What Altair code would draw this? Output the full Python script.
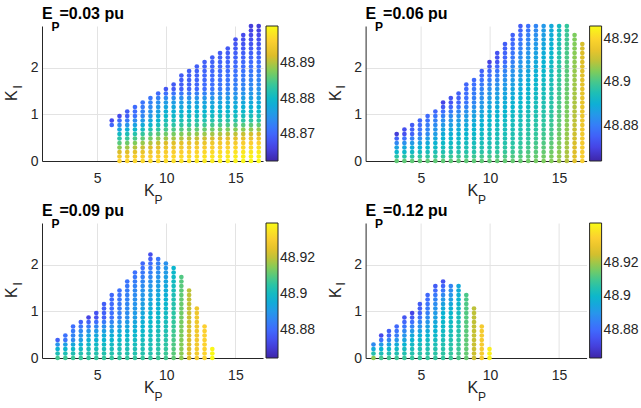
import altair as alt
import numpy as np
import pandas as pd

FONT = "Liberation Sans"

# K_P grid (columns) and K_I grid (rows)
KP_GRID = [1.57, 2.13, 2.69, 3.25, 3.81, 4.37, 4.93, 5.49, 6.05, 6.61, 7.17, 7.73, 8.29, 8.85,
           9.41, 9.97, 10.53, 11.09, 11.65, 12.21, 12.77, 13.33, 13.89, 14.45, 15.01, 15.57,
           16.13, 16.69]
KI_GRID = [0.0, 0.097, 0.193, 0.29, 0.387, 0.483, 0.58, 0.677, 0.773, 0.87, 0.967, 1.063, 1.16,
           1.257, 1.353, 1.45, 1.547, 1.643, 1.74, 1.837, 1.933, 2.03, 2.127, 2.223, 2.32, 2.417,
           2.513, 2.61, 2.707, 2.803, 2.9]

# panel titles (E_P in pu)
EP_LABELS = ["0.03", "0.06", "0.09", "0.12"]

# first K_P column index, lowest and highest K_I row index for every column
P1_FIRST = 8
P1_BOTTOM = [8] + [0] * 19
P1_TOP = [9, 10, 11, 12, 13, 14, 15, 16, 17, 19, 20, 21, 22, 23, 24, 25, 27, 28, 30, 30]
P2_FIRST = 3
P2_BOTTOM = [0] * 25
P2_TOP = [6, 7, 8, 9, 10, 11, 13, 14, 15, 17, 18, 20, 22, 24, 26, 28, 30, 30, 30, 30, 30, 30, 30, 28, 26]
P3_FIRST = 1
P3_BOTTOM = [0] * 21
P3_TOP = [4, 5, 7, 8, 9, 10, 12, 14, 15, 17, 19, 21, 23, 22, 21, 20, 18, 15, 11, 7, 2]
P4_FIRST = 0
P4_BOTTOM = [0] * 16
P4_TOP = [3, 5, 6, 7, 9, 10, 12, 14, 16, 17, 16, 16, 14, 11, 7, 2]

# colour bar limits (Hz) and labelled colour bar ticks
P1_CLIM = [48.8625, 48.9003]
P2_CLIM = [48.8637, 48.926]
P3_CLIM = [48.8642, 48.9393]
P4_CLIM = [48.863, 48.944]
P1_CTICKS = [48.87, 48.88, 48.89]
P2_CTICKS = [48.88, 48.9, 48.92]
P3_CTICKS = [48.88, 48.9, 48.92]
P4_CTICKS = [48.88, 48.9, 48.92]

# colour readings: (K_P column, K_I levels, position of the dot colour on the colour bar 0..1)
P1_COLOUR = [
    (6.05, [0.77, 0.87], [0.2, 0.12]),
    (6.61, [0, 0.1, 0.2, 0.3, 0.4, 0.5, 0.6, 0.7, 0.8, 0.97], [0.9, 0.85, 0.77, 0.67, 0.6, 0.53, 0.46, 0.37, 0.27, 0.12]),
    (9.97, [0, 0.2, 0.36, 0.5, 0.65, 0.8, 1.0, 1.3, 1.55], [0.92, 0.87, 0.8, 0.69, 0.6, 0.52, 0.45, 0.34, 0.15]),
    (16.69, [0, 0.2, 0.4, 0.55, 0.7, 0.85, 1.0, 1.3, 1.6, 2.0, 2.4, 2.9],
     [1.0, 0.96, 0.89, 0.8, 0.68, 0.56, 0.48, 0.39, 0.31, 0.24, 0.17, 0.08]),
]
P2_COLOUR = [
    (3.25, [0, 0.1, 0.2, 0.3, 0.4, 0.5, 0.58], [0.62, 0.53, 0.45, 0.37, 0.28, 0.17, 0.08]),
    (6.61, [0, 0.1, 0.2, 0.4, 0.7, 1.0, 1.26], [0.62, 0.56, 0.51, 0.46, 0.38, 0.26, 0.1]),
    (9.97, [0, 0.1, 0.2, 0.4, 0.7, 1.0, 1.5, 2.0, 2.13], [0.62, 0.58, 0.54, 0.5, 0.47, 0.43, 0.33, 0.18, 0.09]),
    (12.21, [0, 0.2, 0.5, 1.0, 1.5, 2.0, 2.5, 2.9], [0.63, 0.58, 0.53, 0.48, 0.42, 0.35, 0.26, 0.17]),
    (14.45, [0, 0.5, 1.0, 2.0, 2.9], [0.67, 0.6, 0.55, 0.48, 0.4]),
    (15.57, [0, 1.0, 2.9], [0.73, 0.66, 0.56]),
    (16.13, [0, 1.0, 2.7], [0.8, 0.73, 0.66]),
    (16.69, [0, 1.0, 2.5], [0.88, 0.83, 0.77]),
]
P3_COLOUR = [
    (2.13, [0, 0.1, 0.2, 0.3, 0.39], [0.58, 0.5, 0.43, 0.32, 0.18]),
    (4.37, [0, 0.1, 0.3, 0.5, 0.7, 0.87], [0.56, 0.52, 0.46, 0.38, 0.25, 0.1]),
    (8.85, [0, 0.1, 0.5, 1.0, 1.5, 2.0, 2.22], [0.56, 0.52, 0.48, 0.43, 0.35, 0.23, 0.13]),
    (9.97, [0, 0.5, 1.0, 1.5, 2.03], [0.58, 0.52, 0.47, 0.41, 0.32]),
    (10.53, [0, 1.0, 1.93], [0.62, 0.54, 0.45]),
    (11.09, [0, 1.0, 1.74], [0.68, 0.64, 0.6]),
    (11.65, [0, 1.45], [0.78, 0.74]),
    (12.21, [0, 1.06], [0.86, 0.84]),
    (12.77, [0, 0.68], [0.9, 0.89]),
    (13.33, [0, 0.19], [1.0, 0.99]),
]
P4_COLOUR = [
    (1.57, [0, 0.1, 0.2, 0.29], [0.68, 0.52, 0.4, 0.3]),
    (2.13, [0, 0.1, 0.2, 0.3, 0.48], [0.58, 0.5, 0.44, 0.34, 0.12]),
    (4.37, [0, 0.1, 0.3, 0.5, 0.7, 0.97], [0.56, 0.52, 0.47, 0.4, 0.27, 0.1]),
    (6.61, [0, 0.5, 1.0, 1.3, 1.64], [0.56, 0.48, 0.43, 0.33, 0.14]),
    (7.17, [0, 0.5, 1.0, 1.55], [0.57, 0.5, 0.45, 0.28]),
    (7.73, [0, 1.0, 1.55], [0.59, 0.48, 0.4]),
    (8.29, [0, 1.35], [0.63, 0.59]),
    (8.85, [0, 1.06], [0.76, 0.74]),
    (9.41, [0, 0.68], [0.87, 0.86]),
    (9.97, [0, 0.19], [0.98, 0.97]),
]

PARULA = ["#3e26a8", "#4747eb", "#3e6fff", "#2796eb", "#08b5d0",
          "#31c69f", "#81cc59", "#dcbd29", "#fccf30", "#f9fb15"]

W, H = 221, 135


def panel_frame(first, bottoms, tops, colour, clim):
    rows = []
    kps = [c[0] for c in colour]
    for j, (b, t) in enumerate(zip(bottoms, tops)):
        kp = KP_GRID[first + j]
        for i in range(b, t + 1):
            ki = KI_GRID[i]
            levels = [np.interp(ki, c[1], c[2]) for c in colour]
            frac = float(np.interp(kp, kps, levels))
            rows.append({"kp": kp, "ki": ki, "f": clim[0] + frac * (clim[1] - clim[0])})
    return pd.DataFrame(rows)


def text(s, x, y, size, weight="normal", angle=0, color="#262626"):
    props = dict(text=s, align="left", baseline="alphabetic", font=FONT,
                 fontSize=size, fontWeight=weight, color=color)
    if angle:
        props["angle"] = angle
    return alt.Chart(alt.Data(values=[{"a": 1}])).mark_text(**props).encode(
        x=alt.value(x), y=alt.value(y))


def panel(ep, first, bottoms, tops, colour, clim, cticks):
    df = panel_frame(first, bottoms, tops, colour, clim)
    dom = [float(v) for v in np.linspace(clim[0], clim[1], len(PARULA))]
    pts = alt.Chart(df).mark_circle(size=22, opacity=1).encode(
        x=alt.X("kp:Q", scale=alt.Scale(domain=[1, 17], nice=False, zero=False),
                axis=alt.Axis(values=[5, 10, 15], title=None, labelPadding=10)),
        y=alt.Y("ki:Q", scale=alt.Scale(domain=[0, 2.9], nice=False, zero=False),
                axis=alt.Axis(values=[0, 1, 2], title=None, labelPadding=4)),
        color=alt.Color("f:Q", title=None,
                        scale=alt.Scale(domain=dom, range=PARULA, nice=False, zero=False,
                                        interpolate="rgb"),
                        legend=alt.Legend(values=cticks, format="~g", orient="right", offset=3,
                                          gradientLength=H, gradientThickness=12,
                                          labelOverlap=False)),
    )
    layers = [
        pts,
        text("E", 0, -6.7, 16, "bold", color="#000000"),
        text("P", 9.5, 4.5, 12, "bold", color="#000000"),
        text("=" + ep + " pu", 17.5, -6.7, 16, "bold", color="#000000"),
        text("K", 102, 170, 16),
        text("P", 112.5, 178, 12),
        text("K", -25, 75, 16, angle=270),
        text("I", -20.5, 62.5, 12, angle=270),
    ]
    return alt.layer(*layers).properties(width=W, height=H)


charts = [
    panel(EP_LABELS[0], P1_FIRST, P1_BOTTOM, P1_TOP, P1_COLOUR, P1_CLIM, P1_CTICKS),
    panel(EP_LABELS[1], P2_FIRST, P2_BOTTOM, P2_TOP, P2_COLOUR, P2_CLIM, P2_CTICKS),
    panel(EP_LABELS[2], P3_FIRST, P3_BOTTOM, P3_TOP, P3_COLOUR, P3_CLIM, P3_CTICKS),
    panel(EP_LABELS[3], P4_FIRST, P4_BOTTOM, P4_TOP, P4_COLOUR, P4_CLIM, P4_CTICKS),
]

chart = alt.ConcatChart(
    concat=charts, columns=2,
    spacing=alt.RowColnumber(row=62, column=102.6),
    bounds="flush",
).resolve_scale(color="independent").properties(
    padding={"left": 4, "top": 6, "right": 0, "bottom": 0}
).configure_view(stroke=None).configure_axis(
    domainColor="#262626", domainWidth=1, gridColor="#e3e3e3", gridWidth=1,
    labelColor="#262626", labelFont=FONT, labelFontSize=14, ticks=False, tickSize=0,
).configure_legend(
    gradientStrokeColor="#262626", gradientStrokeWidth=1, labelFont=FONT, labelFontSize=14,
    labelColor="#262626", labelOffset=3, padding=0,
)

chart.save("out.html", embed_options={"renderer": "svg", "actions": False})
